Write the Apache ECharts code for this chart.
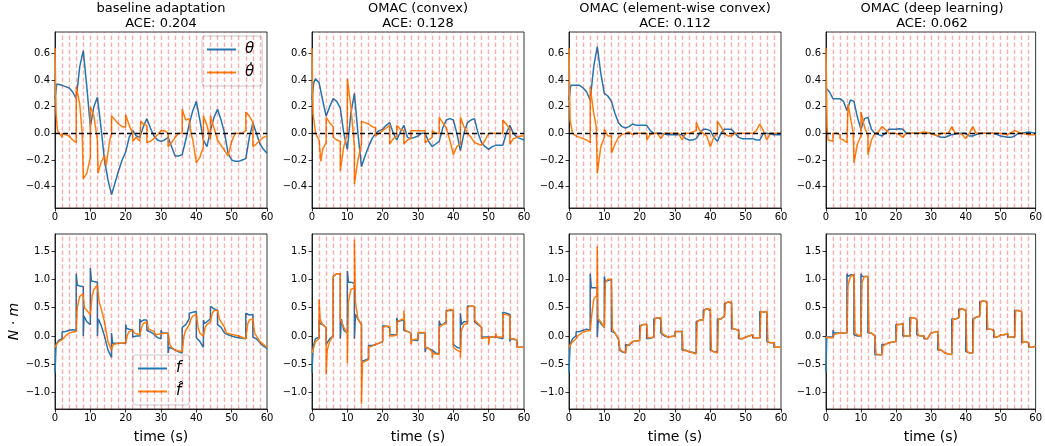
<!DOCTYPE html>
<html>
<head>
<meta charset="utf-8">
<script src="https://cdn.jsdelivr.net/npm/echarts@6/dist/echarts.min.js"></script>
<style>
  html, body { margin: 0; padding: 0; background: #fff; }
  #chart { width: 1045px; height: 446px; }
</style>
</head>
<body>
<div id="chart"></div>
<script>
// panel titles and scores
const panelTitles = ['baseline adaptation', 'OMAC (convex)', 'OMAC (element-wise convex)', 'OMAC (deep learning)'];
const aceValues = ['0.204', '0.128', '0.112', '0.062'];

// ticks
const timeTicks = [0, 10, 20, 30, 40, 50, 60];
const thetaTicks = [-0.4, -0.2, 0, 0.2, 0.4, 0.6];
const forceTicks = [-1, -0.5, 0, 0.5, 1, 1.5];
// wind switches every 2 s
const switchTimes = [2, 4, 6, 8, 10, 12, 14, 16, 18, 20, 22, 24, 26, 28, 30, 32, 34, 36, 38, 40, 42, 44, 46, 48, 50, 52, 54, 56, 58];

// ---- top row: theta / theta dot ----
const baseTheta = [[0,0.26],[0.5,0.37],[1,0.37],[2,0.36],[3,0.35],[4,0.34],[5,0.31],[6,0.26],[7,0.5],[8,0.62],[9,0.35],[10,0.05],[11,0.2],[12,0.27],[13,0.05],[14,-0.2],[15,-0.35],[16,-0.46],[17,-0.37],[18,-0.28],[19,-0.2],[20,-0.14],[21,-0.03],[22,0.02],[23,-0.02],[24,-0.03],[25,0.05],[26,0.11],[27,0.04],[28,-0.02],[29,-0.05],[30,-0.06],[31,-0.05],[32,-0.03],[33,-0.1],[34,-0.17],[35,-0.17],[36,-0.16],[37,-0.05],[38,0.07],[39,0.17],[40,0.24],[41,0.1],[42,-0.05],[43,-0.1],[44,0.02],[45,0.12],[46,0.18],[47,0.1],[48,0],[49,-0.15],[50,-0.2],[51,-0.21],[52,-0.21],[53,-0.2],[54,-0.19],[55,-0.03],[56,0.08],[57,0],[58,-0.08],[59,-0.12],[60,-0.15]];
const baseThetaDot = [[0,0.64],[0.3,0.15],[0.7,0.02],[1.5,-0.01],[2,-0.03],[2,0],[3,-0.01],[4,-0.02],[5,-0.05],[6,-0.07],[6,0.35],[7,0.22],[7.7,0],[8,-0.34],[9,-0.3],[10,-0.18],[10,0.2],[11,0.13],[12,-0.05],[12.2,-0.3],[13,-0.22],[14,-0.17],[14.5,-0.24],[15.5,-0.05],[16,0],[16,0.13],[17,0.1],[18,0.07],[19,0.05],[20,0.05],[20,0.14],[21,0.06],[22,0],[22,-0.06],[23,-0.03],[24,-0.06],[24.3,0.09],[25,0.07],[26,0.06],[26,-0.07],[27,-0.06],[28,-0.04],[29,-0.01],[30,0.02],[31,0.02],[32,0],[32,-0.1],[33,-0.07],[34,-0.03],[35,0],[36,0],[36,0.18],[37,0.1],[38,0.11],[38.5,0],[39,-0.05],[40,-0.22],[41,-0.18],[42,-0.1],[42,0.13],[43,0.06],[44,-0.05],[44,0.13],[45,0.04],[46,-0.05],[47,-0.09],[48,-0.13],[49,-0.17],[50,-0.06],[51,0],[52,0],[53,0],[54,0.02],[54,0.16],[55,0.13],[56,0.08],[56,-0.1],[57,-0.08],[58,-0.05],[59,-0.03],[60,-0.02]];

const cvxTheta = [[0,0.25],[0.5,0.38],[1,0.41],[2,0.38],[3,0.25],[4,0.13],[5,0.2],[6,0.26],[7,0.24],[8,0.19],[9,0],[10,-0.12],[11,0.15],[12,0.3],[13,0],[14,-0.25],[15,-0.17],[16,-0.1],[17,-0.04],[18,0],[19,0.02],[20,0.03],[21,0.06],[22,0.08],[23,0],[24,-0.05],[25,0.01],[26,0.06],[27,-0.03],[28,-0.04],[29,-0.03],[30,-0.02],[31,0],[32,0],[33,-0.06],[34,-0.1],[35,-0.08],[36,-0.06],[37,0.04],[38,0.1],[39,0.11],[40,0.1],[41,0],[42,-0.13],[43,0],[44,0.08],[45,0.1],[46,0.11],[47,0],[48,-0.07],[49,-0.1],[50,-0.12],[51,-0.1],[52,-0.09],[53,-0.09],[54,-0.09],[55,0],[56,0.06],[57,0],[58,-0.03],[59,-0.04],[60,-0.05]];
const cvxThetaDot = [[0,0.64],[0.3,0.15],[1,0],[2,-0.05],[2.5,-0.21],[3,-0.12],[4,-0.07],[4,0.12],[5,0.08],[6,0.05],[6,-0.03],[7,-0.05],[8,-0.06],[8,-0.28],[9,-0.1],[10,0],[10,0.41],[11,0.2],[12,-0.1],[12,-0.38],[13,-0.2],[14,-0.08],[14,0.09],[15,0.08],[16,0.07],[17,0.05],[18,0.04],[18,-0.02],[19,0],[20,0.02],[21,0.04],[22,0.06],[22,-0.08],[23,-0.04],[24,-0.02],[24,0.06],[25,0.03],[26,0.02],[26,-0.08],[27,-0.05],[28,-0.04],[28,0.02],[30,0.02],[31,0.02],[32,0.02],[32,-0.07],[33,-0.05],[34,-0.03],[34,0.02],[35,0],[36,0],[36,0.12],[37,0.08],[38,0.04],[39,-0.05],[40,-0.16],[41,-0.1],[42,-0.08],[42,0.12],[43,0.05],[44,0],[45,-0.03],[46,-0.07],[47,-0.08],[48,-0.09],[49,-0.05],[50,0],[51,0],[52,0],[53,0],[54,0],[54,0.1],[55,0.07],[56,0.03],[56,-0.08],[57,-0.04],[58,-0.03],[59,-0.02],[60,-0.02]];

const ewTheta = [[0,0.25],[0.5,0.36],[1,0.37],[2,0.36],[3,0.36],[4,0.34],[5,0.31],[6,0.25],[7,0.5],[8,0.65],[9,0.45],[10,0.3],[11,0.28],[12,0.24],[13,0.15],[14,0.08],[15,0.05],[16,0.04],[17,0.05],[18,0.07],[19,0.06],[20,0.06],[21,0.06],[22,0.06],[23,0.02],[24,0],[25,0],[26,0],[28,-0.01],[30,-0.01],[32,-0.01],[33,-0.04],[34,-0.05],[35,-0.05],[36,-0.04],[37,0],[38,0.03],[39,0.03],[40,0.02],[41,-0.03],[42,-0.06],[43,0],[44,0.03],[45,0.03],[46,0.03],[47,0],[48,-0.03],[49,-0.04],[50,-0.04],[52,-0.04],[53,-0.05],[54,-0.05],[55,0],[56,0],[58,-0.01],[60,-0.01]];
const ewThetaDot = [[0,0.64],[0.3,0.1],[1,0],[2,-0.02],[3,-0.03],[4,-0.04],[5,-0.05],[6,-0.07],[6,0.35],[7,0.15],[7.7,0.05],[8,-0.3],[9,-0.1],[10,-0.03],[10,0.03],[11,-0.02],[12,-0.02],[12,-0.15],[13,-0.08],[14,-0.03],[15,-0.01],[16,0],[17,0.01],[18,-0.01],[19,0],[20,0],[21,0],[22,0],[22,-0.05],[23,-0.01],[24,0],[25,0],[26,-0.04],[27,0],[28,0],[30,0],[31,0],[32,-0.05],[33,0],[34,0],[35,0.01],[36,0.02],[36,0.08],[37,0.02],[38,0],[39,-0.02],[40,-0.1],[41,-0.03],[42,0],[42,0.09],[43,0.05],[44,0],[45,-0.02],[46,-0.02],[47,0],[48,0],[50,0],[52,0],[53,0.02],[54,0.07],[55,0.02],[56,-0.05],[57,0],[58,0],[60,0]];

const dlTheta = [[0,0.34],[1,0.31],[2,0.26],[3,0.26],[4,0.26],[5,0.24],[6,0.17],[7,0.25],[8,0.24],[9,0.12],[10,0.03],[11,0.11],[12,0.12],[13,0.03],[14,0],[15,-0.01],[16,-0.02],[17,0],[18,0.03],[19,0.03],[20,0.03],[21,0.035],[22,0.03],[23,0],[24,0],[26,0],[28,0],[30,0],[31,-0.01],[32,-0.02],[33,-0.03],[34,-0.03],[35,-0.02],[36,-0.01],[38,0],[40,0],[41,-0.02],[42,-0.02],[43,-0.01],[44,0],[46,0],[48,0],[49,-0.01],[50,-0.02],[52,-0.03],[53,-0.03],[54,-0.02],[55,0],[56,0],[58,0.01],[60,0]];
const dlThetaDot = [[0,0.64],[0.3,0.05],[0.6,-0.05],[1,-0.055],[2,-0.06],[2,0],[3,0],[4,-0.01],[4,-0.04],[5,-0.05],[6,-0.07],[6.3,0.22],[7,0.12],[7.8,0],[8,-0.22],[9,-0.08],[10,-0.02],[10,0.16],[11,0.05],[12,-0.02],[12,-0.16],[13,-0.05],[14,0],[15,0.01],[16,0.05],[17,0.03],[18,0],[20,0],[21,-0.01],[22,-0.03],[23,0],[24,0],[26,0],[28,0.01],[30,0],[32,-0.02],[33,0],[34,0],[35,0],[36,0.05],[37,0],[38,0],[39,-0.01],[40,-0.04],[41,0],[42,0.05],[43,0],[44,0],[46,0],[48,0],[50,0],[52,-0.01],[54,0.02],[55,0.01],[56,0],[58,-0.01],[60,-0.01]];

// ---- bottom row: f / f hat ----
const baseF = [[0,-0.65],[0.3,-0.15],[1,-0.08],[2,-0.05],[2,0.07],[3,0.08],[4,0.1],[4,0.12],[5,0.11],[6,0.1],[6,1.1],[6.3,0.9],[7,0.88],[8,0.87],[8,0.0],[8.2,0.35],[9,0.25],[10,0.2],[10,1.2],[10.3,0.97],[11,0.96],[12,0.95],[12,0.0],[12.2,0.3],[13,0.2],[14,0],[15,-0.25],[16,-0.38],[16,0.05],[16.3,-0.13],[17,-0.13],[18,-0.13],[19,-0.13],[20,-0.13],[20,0.2],[20.3,0.13],[21,0.12],[22,0.1],[22,-0.02],[23,0],[24,0],[24,0.3],[24.3,0.25],[25,0.28],[26,0.28],[26,0.1],[27,0.07],[28,0.03],[28,0],[29,-0.03],[30,-0.05],[30,0.1],[30.3,0.05],[31,0.05],[32,0.05],[32,-0.3],[32.3,-0.2],[33,-0.22],[34,-0.25],[35,-0.28],[36,-0.3],[36,0.15],[37,0.2],[38,0.3],[38,0.4],[39,0.42],[40,0.43],[40,-0.03],[41,-0.1],[42,-0.2],[42,0.28],[42.3,0.22],[43,0.25],[44,0.3],[44,0.52],[45,0.48],[46,0.45],[46,0.2],[47,0.15],[48,0.05],[49,0.02],[50,0],[51,-0.02],[52,-0.03],[53,-0.04],[54,-0.05],[54,0.4],[55,0.37],[56,0.38],[56,-0.02],[57,-0.05],[58,-0.12],[59,-0.18],[60,-0.22]];
const baseFhat = [[0,-0.2],[0.5,-0.15],[1,-0.1],[2,-0.07],[3,0],[4,0.05],[5,0.07],[6,0.08],[6.3,0.5],[7,0.7],[8,0.75],[8.3,0.5],[9,0.45],[10,0.38],[10.5,0.7],[11,0.82],[12,0.9],[12.5,0.6],[13,0.5],[14,0.25],[15,-0.1],[16,-0.25],[16.5,-0.15],[18,-0.13],[20,-0.12],[20.5,0.02],[21,0.08],[22,0.1],[22.5,0.05],[23,0.02],[24,0.02],[24.5,0.15],[25,0.22],[26,0.25],[26.5,0.12],[27,0.1],[28,0.08],[28.5,0.02],[30,0.04],[30.5,0.05],[32,0.05],[32.5,-0.15],[33,-0.2],[34,-0.25],[36,-0.28],[36.5,0],[37,0.1],[38,0.2],[38.5,0.3],[39,0.35],[40,0.38],[40.5,0.15],[41,0.05],[42,0],[42.5,0.15],[43,0.2],[44,0.25],[44.5,0.4],[45,0.45],[46,0.45],[46.5,0.3],[47,0.25],[48,0.15],[48.5,0.05],[50,0.03],[52,0],[54,-0.05],[54.5,0.2],[55,0.28],[56,0.3],[56.5,0.05],[57,0],[58,-0.1],[59,-0.15],[60,-0.2]];

const cvxF = [[0,-0.65],[0.3,-0.2],[1,-0.05],[2,-0.02],[2,0.3],[2.3,0.22],[3,0.2],[4,0.15],[4,-0.15],[5,-0.05],[6,0],[6,1.05],[7,1.1],[8,1.1],[8,-0.05],[8.3,0.3],[9,0.1],[10,0.05],[10,1.15],[10.3,0.95],[11,0.95],[12,0.93],[12,-0.05],[12.3,0.38],[13,0.3],[14,0.2],[14,-0.45],[15,-0.43],[16,-0.4],[16,-0.17],[17,-0.17],[18,-0.15],[18,-0.12],[20,-0.1],[20,0.18],[21,0.17],[22,0.15],[22,0.02],[23,0.02],[24,0.02],[24,0.32],[24.3,0.25],[25,0.27],[26,0.28],[26,0.1],[27,0.08],[28,0.05],[28,-0.07],[30,-0.08],[30,0.05],[32,0.05],[32,-0.28],[32.3,-0.2],[33,-0.22],[34,-0.25],[35,-0.3],[36,-0.32],[36,0.27],[36.3,0.2],[37,0.2],[38,0.25],[38,0.45],[40,0.45],[40,-0.15],[41,-0.2],[42,-0.22],[42,0.4],[42.3,0.2],[43,0.25],[44,0.25],[44,0.53],[46,0.52],[46,0.25],[47,0.2],[48,0.15],[48,-0.02],[50,-0.02],[52,-0.02],[54,-0.05],[54,0.42],[55,0.4],[56,0.38],[56,-0.1],[56.3,-0.05],[58,-0.07],[58,-0.2],[60,-0.2]];
const cvxFhat = [[0,-0.3],[1,-0.1],[2,-0.05],[2,0.65],[2.3,0.3],[3,0.2],[4,0.15],[4,-0.68],[4.3,-0.25],[5,-0.1],[6,0],[6,1.05],[7,1.1],[8,1.1],[8,0.3],[9,0.15],[10,0.05],[10,-0.48],[10.3,0.6],[11,0.82],[12,0.85],[12,1.7],[12.3,0.6],[13,0.3],[14,0.2],[14,-1.2],[14.3,-0.47],[15,-0.45],[16,-0.42],[16,-0.2],[17,-0.18],[18,-0.15],[18,-0.12],[20,-0.1],[20,0.15],[21,0.17],[22,0.17],[22,0],[23,0],[24,0.02],[24,0.25],[25,0.28],[26,0.3],[26,0.45],[26.3,0.1],[27,0.08],[28,0.05],[28,-0.15],[28.3,-0.07],[30,-0.05],[30,0.06],[32,0.06],[32,-0.2],[33,-0.22],[34,-0.28],[34,-0.38],[34.3,-0.3],[35,-0.32],[36,-0.33],[36,0.15],[37,0.2],[38,0.22],[38,0.42],[39,0.47],[40,0.45],[40,-0.2],[41,-0.25],[42,-0.28],[42,-0.38],[42.3,0.1],[43,0.2],[44,0.22],[44,0.5],[45,0.53],[46,0.52],[46,0.28],[47,0.22],[48,0.15],[48,-0.05],[49,-0.03],[50,-0.03],[50,-0.15],[50.3,-0.02],[52,-0.02],[52,0.05],[52.3,-0.02],[54,-0.02],[54,0.38],[55,0.38],[56,0.35],[56,-0.05],[57,-0.05],[58,-0.07],[58,-0.2],[60,-0.2]];

const ewF = [[0,-0.65],[0.3,-0.15],[1,-0.05],[2,0],[2,0.07],[3,0.08],[4,0.1],[4,0.13],[5,0.12],[6,0.1],[6,1.1],[6.3,0.85],[7,0.85],[8,0.85],[8,-0.02],[8.3,0.3],[9,0.22],[10,0.15],[10,1.05],[10.3,0.95],[11,0.98],[12,1.0],[12,0.08],[12.3,0.1],[13,0.05],[14,-0.05],[14.3,-0.25],[15,-0.28],[16,-0.3],[16,-0.15],[17,-0.17],[18,-0.1],[20,-0.08],[20,0.18],[21,0.2],[22,0.2],[22,-0.05],[23,-0.04],[24,-0.02],[24,0.3],[25,0.32],[26,0.3],[26,0.05],[27,0],[28,-0.02],[28,-0.04],[30,0],[30,0.08],[32,0.08],[32,-0.25],[33,-0.25],[34,-0.28],[36,-0.3],[36,0.25],[37,0.28],[38,0.28],[38,0.45],[39,0.48],[40,0.45],[40,-0.25],[41,-0.28],[42,-0.28],[42,0.3],[43,0.3],[44,0.35],[44,0.57],[45,0.6],[46,0.58],[46,0.13],[47,0.12],[48,0.1],[48,-0.05],[49,-0.05],[50,-0.02],[50,0],[51,0],[52,0.02],[52,-0.03],[54,-0.03],[54,0.43],[55,0.42],[56,0.43],[56,-0.1],[57,-0.12],[58,-0.12],[58,-0.2],[60,-0.2]];
const ewFhat = [[0,-0.2],[1,-0.1],[2,-0.05],[2.5,0],[4,0.07],[4.5,0.08],[6,0.1],[6.5,0.4],[7,0.65],[7.9,0.72],[8,1.58],[8.2,0.3],[9,0.25],[10,0.15],[10.3,0.95],[11,1.0],[12,1.0],[12.3,0.12],[13,0.05],[14,-0.05],[14.5,-0.25],[15,-0.28],[16,-0.3],[16.3,-0.18],[17,-0.15],[18,-0.1],[20,-0.08],[20.3,0.18],[21,0.2],[22,0.2],[22.3,-0.03],[23,-0.03],[24,-0.02],[24.3,0.3],[25,0.32],[26,0.32],[26.3,0.05],[27,0.02],[28,-0.02],[28.3,-0.04],[30,0],[30.3,0.08],[32,0.08],[32.3,-0.25],[33,-0.26],[34,-0.28],[36,-0.32],[36.3,0.25],[37,0.28],[38,0.28],[38.3,0.45],[39,0.48],[40,0.47],[40.3,-0.25],[41,-0.28],[42,-0.3],[42.3,0.3],[43,0.3],[44,0.35],[44.3,0.57],[45,0.6],[46,0.6],[46.3,0.13],[47,0.12],[48,0.1],[48.3,-0.05],[49,-0.05],[50,-0.02],[50.3,0],[51,0],[52,0.02],[52.3,-0.03],[54,-0.03],[54.3,0.43],[55,0.42],[56,0.43],[56.3,-0.1],[57,-0.12],[58,-0.12],[58.3,-0.2],[60,-0.2]];

const dlF = [[0,-0.65],[0.2,-0.02],[1,-0.02],[2,-0.02],[2,0.1],[2.3,0.05],[3,0.05],[4,0.05],[5,0.05],[6,0.05],[6,1.1],[6.3,1.05],[7,1.08],[8,1.08],[8,0.02],[9,0],[10,0],[10,1.1],[10.3,1.05],[11,1.05],[12,1.05],[12,0.05],[13,0.05],[14,0],[14,-0.33],[15,-0.33],[16,-0.33],[16,-0.15],[17,-0.15],[18,-0.12],[18,-0.1],[20,-0.1],[20,0.2],[21,0.2],[22,0.22],[22,0],[23,0],[24,0],[24,0.32],[25,0.32],[26,0.3],[26,0.02],[27,0],[28,0],[28,-0.05],[29,-0.05],[30,0.05],[30,0.08],[32,0.08],[32,-0.25],[33,-0.25],[34,-0.3],[35,-0.32],[36,-0.33],[36,0.3],[37,0.3],[38,0.32],[38,0.47],[39,0.48],[40,0.45],[40,-0.27],[41,-0.3],[42,-0.3],[42,0.3],[43,0.33],[44,0.35],[44,0.6],[45,0.62],[46,0.6],[46,0.12],[47,0.12],[48,0.1],[48,-0.02],[49,-0.02],[50,0.02],[50,0],[51,0.02],[52,0.05],[52,-0.02],[53,-0.02],[54,-0.02],[54,0.45],[55,0.45],[56,0.43],[56,-0.12],[57,-0.1],[58,-0.12],[58,-0.2],[59,-0.2],[60,-0.18]];
const dlFhat = [[0,-0.02],[1,-0.03],[2,-0.03],[2.3,0.02],[3,0.04],[4,0.05],[5,0.05],[6,0.05],[6.3,0.9],[7,1.05],[8,1.08],[8.3,0.05],[9,0.02],[10,0],[10.3,0.95],[11,1.05],[12,1.05],[12.3,0.05],[13,0.05],[14,0],[14.3,-0.32],[15,-0.33],[16,-0.33],[16.3,-0.18],[17,-0.15],[18,-0.12],[18.3,-0.1],[20,-0.1],[20.3,0.2],[21,0.2],[22,0.22],[22.3,0],[23,0],[24,0],[24.3,0.32],[25,0.32],[26,0.3],[26.3,0.02],[27,0],[28,0],[28.3,-0.05],[29,-0.05],[30,0.05],[30.3,0.08],[32,0.08],[32.3,-0.25],[33,-0.25],[34,-0.3],[35,-0.32],[36,-0.33],[36.3,0.3],[37,0.3],[38,0.32],[38.3,0.47],[39,0.48],[40,0.45],[40.3,-0.27],[41,-0.3],[42,-0.3],[42.3,0.3],[43,0.33],[44,0.35],[44.3,0.6],[45,0.62],[46,0.6],[46.3,0.12],[47,0.12],[48,0.1],[48.3,-0.02],[49,-0.02],[50,0.02],[50.3,0],[51,0.02],[52,0.05],[52.3,-0.02],[53,-0.02],[54,-0.02],[54.3,0.45],[55,0.45],[56,0.43],[56.3,-0.12],[57,-0.1],[58,-0.12],[58.3,-0.2],[59,-0.2],[60,-0.18]];

const thetaSets = [[baseTheta, baseThetaDot], [cvxTheta, cvxThetaDot], [ewTheta, ewThetaDot], [dlTheta, dlThetaDot]];
const forceSets = [[baseF, baseFhat], [cvxF, cvxFhat], [ewF, ewFhat], [dlF, dlFhat]];

const FONT = 'DejaVu Sans';
const BLUE = '#1f77b4';
const ORANGE = '#ff7f0e';
const colLefts = [55, 312, 569, 826];
const colWidth = 212;

function fmt(v) {
  return (v < 0 ? '\u2212' : '') + Math.abs(v).toFixed(1);
}

const grids = [], xAxes = [], yAxes = [], series = [], graphics = [];

function addAxes(idx, row, col) {
  const isTop = row === 0;
  grids.push({
    left: colLefts[col], top: isTop ? 32 : 234, width: colWidth, height: isTop ? 176 : 175,
    show: true, borderColor: '#000', borderWidth: 0.8
  });
  xAxes.push({
    type: 'value', gridIndex: idx, min: 0, max: 60, interval: 10,
    axisLine: { show: true, onZero: false, lineStyle: { color: '#000', width: 0.8 } },
    axisTick: { show: true, length: 3.5, lineStyle: { color: '#000', width: 0.8 } },
    axisLabel: { color: '#000', fontSize: 10, fontFamily: FONT, margin: 4 },
    splitLine: { show: false },
    name: isTop ? '' : 'time (s)', nameLocation: 'middle', nameGap: 21,
    nameTextStyle: { fontSize: 14, fontFamily: FONT, color: '#000' }
  });
  const ticks = isTop ? thetaTicks : forceTicks;
  yAxes.push({
    type: 'value', gridIndex: idx,
    min: isTop ? -0.56 : -1.29, max: isTop ? 0.76 : 1.8,
    axisLine: { show: true, onZero: false, lineStyle: { color: '#000', width: 0.8 } },
    axisTick: { show: true, length: 3.5, customValues: ticks, lineStyle: { color: '#000', width: 0.8 } },
    axisLabel: { color: '#000', fontSize: 10, fontFamily: FONT, margin: 5, customValues: ticks, formatter: fmt },
    splitLine: { show: false },
    name: (!isTop && col === 0) ? 'N \u00b7 m' : '', nameLocation: 'middle', nameGap: 33,
    nameTextStyle: { fontSize: 14, fontStyle: 'italic', fontFamily: FONT, color: '#000' }
  });
  // carrier series for the reference lines
  const marks = switchTimes.map(t => ({ xAxis: t }));
  if (isTop) {
    marks.push({ yAxis: 0, lineStyle: { color: '#000', type: [5, 3], width: 1.4, opacity: 1 } });
  }
  series.push({
    type: 'line', xAxisIndex: idx, yAxisIndex: idx, data: [[0, 0]],
    showSymbol: false, symbol: 'none', lineStyle: { opacity: 0, width: 0 }, silent: true,
    z: isTop ? 3 : 1,
    markLine: {
      silent: true, symbol: ['none', 'none'], label: { show: false }, animation: false,
      lineStyle: { color: 'rgba(255,0,0,0.32)', type: [4.5, 2.5], width: 1.4 },
      emphasis: { disabled: true },
      data: marks
    }
  });
}

for (let c = 0; c < 4; c++) {
  // top row
  const ti = grids.length;
  addAxes(ti, 0, c);
  series.push({ name: '\u03b8', type: 'line', xAxisIndex: ti, yAxisIndex: ti, data: thetaSets[c][0],
    showSymbol: false, symbol: 'none', lineStyle: { color: BLUE, width: 1.5 }, itemStyle: { color: BLUE }, z: 2 });
  series.push({ name: '\u03b8\u0307', type: 'line', xAxisIndex: ti, yAxisIndex: ti, data: thetaSets[c][1],
    showSymbol: false, symbol: 'none', lineStyle: { color: ORANGE, width: 1.5 }, itemStyle: { color: ORANGE }, z: 2 });
  // bottom row
  const bi = grids.length;
  addAxes(bi, 1, c);
  series.push({ name: 'f', type: 'line', xAxisIndex: bi, yAxisIndex: bi, data: forceSets[c][0],
    showSymbol: false, symbol: 'none', lineStyle: { color: BLUE, width: 1.5 }, itemStyle: { color: BLUE }, z: 2 });
  series.push({ name: 'f\u0302', type: 'line', xAxisIndex: bi, yAxisIndex: bi, data: forceSets[c][1],
    showSymbol: false, symbol: 'none', lineStyle: { color: ORANGE, width: 1.5 }, itemStyle: { color: ORANGE }, z: 2 });

  // titles
  const cx = colLefts[c] + colWidth / 2;
  graphics.push({
    type: 'text', x: cx, y: 1,
    style: { text: panelTitles[c] + '\nACE: ' + aceValues[c], textAlign: 'center', align: 'center',
      textVerticalAlign: 'top', verticalAlign: 'top', font: '13px ' + FONT, lineHeight: 15, fill: '#000' }
  });
}

const legendBase = {
  orient: 'vertical', icon: 'rect', itemWidth: 29, itemHeight: 2, itemGap: 6,
  backgroundColor: 'rgba(255,255,255,0.8)', borderColor: '#ccc', borderWidth: 1, borderRadius: 3,
  padding: [5, 8, 5, 5], selectedMode: false,
  textStyle: { fontSize: 15, fontStyle: 'italic', fontFamily: FONT, color: '#000', lineHeight: 17, padding: [0, 0, 0, 4] }
};

const chart = echarts.init(document.getElementById('chart'));
chart.setOption({
  animation: false,
  backgroundColor: '#fff',
  textStyle: { fontFamily: FONT },
  grid: grids,
  xAxis: xAxes,
  yAxis: yAxes,
  legend: [
    Object.assign({}, legendBase, { left: 202, top: 36, data: ['\u03b8', '\u03b8\u0307'] }),
    Object.assign({}, legendBase, { left: 133, top: 355, data: ['f', 'f\u0302'] })
  ],
  graphic: graphics,
  series: series
});
</script>
</body>
</html>
